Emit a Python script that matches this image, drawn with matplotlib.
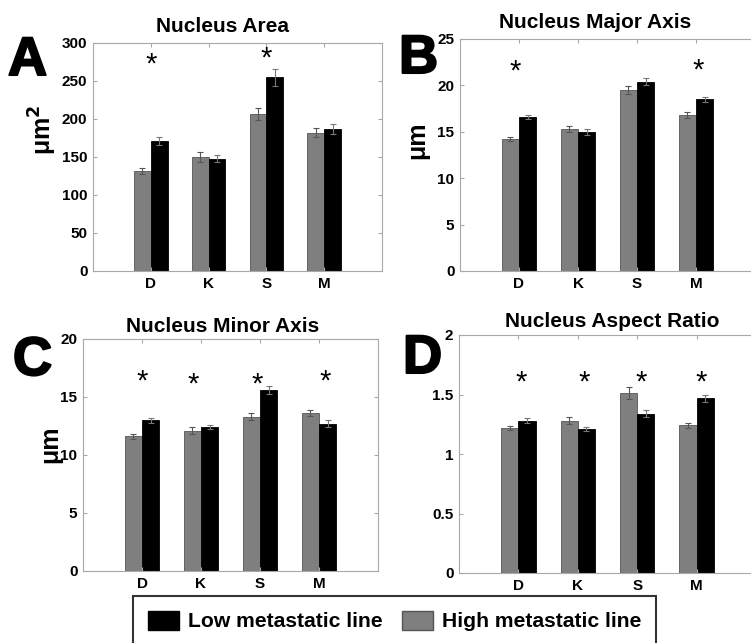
import numpy as np
import matplotlib
matplotlib.use('Agg')
import matplotlib.pyplot as plt
import matplotlib.patheffects as pe
from matplotlib.patches import Patch

plt.rcParams['font.family'] = ['Liberation Sans', 'DejaVu Sans']
plt.rcParams['font.weight'] = 'bold'

# categories (cell lines)
categories = ['D', 'K', 'S', 'M']

# Nucleus Area (um^2)
area_high = [131, 150, 207, 182]
area_high_err = [4, 7, 8, 6]
area_low = [171, 148, 255, 187]
area_low_err = [5, 5, 11, 7]
area_stars = [(1, 271), (3, 279)]

# Nucleus Major Axis (um)
major_high = [14.2, 15.3, 19.5, 16.8]
major_high_err = [0.2, 0.35, 0.4, 0.3]
major_low = [16.6, 15.0, 20.4, 18.5]
major_low_err = [0.25, 0.3, 0.4, 0.3]
major_stars = [(0.93, 21.5), (4.03, 21.6)]

# Nucleus Minor Axis (um)
minor_high = [11.6, 12.1, 13.3, 13.6]
minor_high_err = [0.2, 0.3, 0.3, 0.25]
minor_low = [13.0, 12.4, 15.6, 12.7]
minor_low_err = [0.2, 0.2, 0.35, 0.3]
minor_stars = [(1.0, 16.3), (1.87, 16.1), (2.95, 16.1), (4.1, 16.3)]

# Nucleus Aspect Ratio
ratio_high = [1.22, 1.28, 1.51, 1.24]
ratio_high_err = [0.015, 0.03, 0.05, 0.02]
ratio_low = [1.28, 1.21, 1.34, 1.47]
ratio_low_err = [0.02, 0.02, 0.03, 0.03]
ratio_stars = [(1.05, 1.6), (2.1, 1.6), (3.07, 1.6), (4.07, 1.6)]

W, H = 751, 643
fig = plt.figure(figsize=(W / 100, H / 100), dpi=100)


def px_axes(x0, y0, x1, y1):
    return fig.add_axes([x0 / W, 1 - y1 / H, (x1 - x0) / W, (y1 - y0) / H])


grey = '#7f7f7f'
spine = '#a8a8a8'
bw = 0.29


def panel(ax, high, high_err, low, low_err, ymax, yticks, ylabels, stars):
    x = np.arange(1, len(categories) + 1)
    ax.bar(x - bw / 2, high, bw, color=grey, edgecolor='#555555', linewidth=0.6)
    ax.bar(x + bw / 2, low, bw, color='black', edgecolor='black', linewidth=0.6)
    ax.errorbar(x - bw / 2, high, yerr=high_err, fmt='none', ecolor='#555555',
                elinewidth=0.8, capsize=2, capthick=0.8)
    ax.errorbar(x + bw / 2, low, yerr=low_err, fmt='none', ecolor='#777777',
                elinewidth=0.8, capsize=2, capthick=0.8)
    for sx, sy in stars:
        ax.text(sx, sy, '*', ha='center', va='center', fontsize=21,
                fontweight='normal', color='black')
    ax.set_xlim(0, 5)
    ax.set_ylim(0, ymax)
    ax.set_xticks(x)
    ax.set_xticklabels(categories, fontsize=11, fontweight='bold')
    ax.set_yticks(yticks)
    ax.set_yticklabels(ylabels, fontsize=11, fontweight='bold')
    ax.tick_params(direction='in', length=3, color=spine, top=True, right=True,
                   pad=4)
    for s in ax.spines.values():
        s.set_color(spine)
        s.set_linewidth(0.8)


axA = px_axes(93, 43, 382, 271)
panel(axA, area_high, area_high_err, area_low, area_low_err, 300,
      [0, 50, 100, 150, 200, 250, 300], ['0', '50', '100', '150', '200', '250', '300'],
      area_stars)
axB = px_axes(460, 39, 755, 271)
panel(axB, major_high, major_high_err, major_low, major_low_err, 25,
      [0, 5, 10, 15, 20, 25], ['0', '5', '10', '15', '20', '25'], major_stars)
axC = px_axes(83, 339, 378, 571)
panel(axC, minor_high, minor_high_err, minor_low, minor_low_err, 20,
      [0, 5, 10, 15, 20], ['0', '5', '10', '15', '20'], minor_stars)
axD = px_axes(459, 335, 756, 573)
panel(axD, ratio_high, ratio_high_err, ratio_low, ratio_low_err, 2,
      [0, 0.5, 1, 1.5, 2], ['0', '0.5', '1', '1.5', '2'], ratio_stars)

# titles
fig.text(222 / W, 1 - 32 / H, 'Nucleus Area', ha='center', va='baseline',
         fontsize=15, fontweight='bold')
fig.text(595 / W, 1 - 28 / H, 'Nucleus Major Axis', ha='center', va='baseline',
         fontsize=15, fontweight='bold')
fig.text(223 / W, 1 - 332 / H, 'Nucleus Minor Axis', ha='center', va='baseline',
         fontsize=15, fontweight='bold')
fig.text(612 / W, 1 - 327 / H, 'Nucleus Aspect Ratio', ha='center', va='baseline',
         fontsize=15, fontweight='bold')

# panel letters
thick = [pe.withStroke(linewidth=1.5, foreground='black')]
for letter, lx, ly in [('A', 8, 75), ('B', 399, 73), ('C', 13, 375), ('D', 403, 373)]:
    fig.text(lx / W, 1 - ly / H, letter, ha='left', va='baseline',
             fontsize=39, fontweight='bold', path_effects=thick)

# y labels
fig.text(43 / W, 1 - 130 / H, 'μm$^\\mathbf{2}$', rotation=90, ha='center', va='center',
         fontsize=18, fontweight='bold')
fig.text(417 / W, 1 - 140 / H, 'μm', rotation=90, ha='center', va='center',
         fontsize=18, fontweight='bold')
fig.text(50 / W, 1 - 444 / H, 'μm', rotation=90, ha='center', va='center',
         fontsize=18, fontweight='bold')

# legend
handles = [Patch(facecolor='black', edgecolor='black', label='Low metastatic line'),
           Patch(facecolor=grey, edgecolor='#555555', label='High metastatic line')]
leg = fig.legend(handles=handles, loc='upper left', bbox_to_anchor=(133 / W, 1 - 596 / H),
                 ncol=2, frameon=True, fancybox=False, edgecolor='black',
                 prop={'size': 15.2, 'weight': 'bold'}, borderaxespad=0,
                 handlelength=1.5, handleheight=1.0, handletextpad=0.4,
                 columnspacing=0.9, borderpad=0.7)
leg.get_frame().set_linewidth(1.5)

fig.savefig('out.png', dpi=100)
